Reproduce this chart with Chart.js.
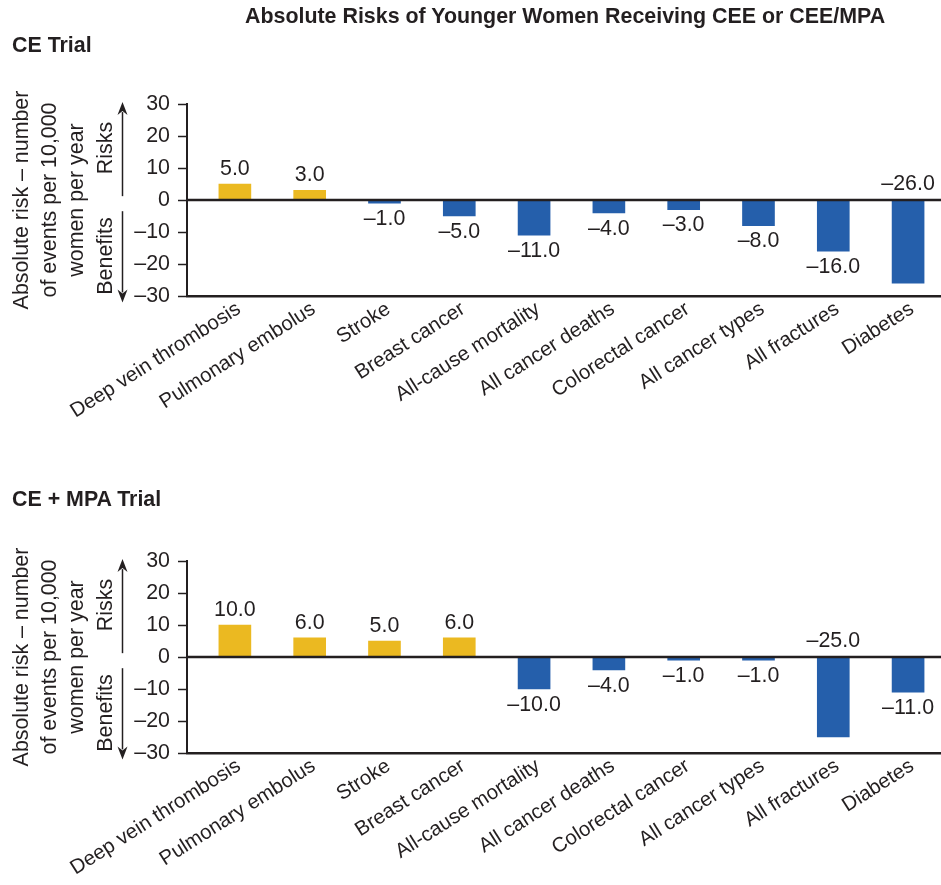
<!DOCTYPE html>
<html lang="en">
<head>
<meta charset="UTF-8">
<title>Absolute Risks of Younger Women Receiving CEE or CEE/MPA</title>
<style>
  body { margin: 0; background: #fff; font-family: "Liberation Sans", Arial, sans-serif; color: #231f20; }
  #page { position: relative; width: 941px; height: 885px; overflow: hidden; }
  canvas { position: absolute; left: 0; display: block; }
  #ceChart { top: 0; }
  #ceMpaChart { top: 457px; }
  .heading { position: absolute; font-weight: bold; font-size: 21.4px; line-height: 24px; white-space: nowrap; }
  #mainTitle { left: 245px; top: 4px; }
  #ceLabel { left: 12px; top: 33px; }
  #ceMpaLabel { left: 12px; top: 487px; }
</style>
</head>
<body>
<div id="page">
  <canvas id="ceChart" width="941" height="440"></canvas>
  <canvas id="ceMpaChart" width="941" height="428"></canvas>
  <div class="heading" id="mainTitle">Absolute Risks of Younger Women Receiving CEE or CEE/MPA</div>
  <div class="heading" id="ceLabel">CE Trial</div>
  <div class="heading" id="ceMpaLabel">CE + MPA Trial</div>
</div>

<script src="https://cdn.jsdelivr.net/npm/chart.js"></script>
<script>
// Outcomes, in the order they appear along the x axis
const categories = ['Deep vein thrombosis', 'Pulmonary embolus', 'Stroke', 'Breast cancer',
  'All-cause mortality', 'All cancer deaths', 'Colorectal cancer', 'All cancer types',
  'All fractures', 'Diabetes'];

// Events per 10,000 women per year (positive = risk, negative = benefit)
const ceValues = [5.0, 3.0, -1.0, -5.0, -11.0, -4.0, -3.0, -8.0, -16.0, -26.0];
const ceMpaValues = [10.0, 6.0, 5.0, 6.0, -10.0, -4.0, -1.0, -1.0, -25.0, -11.0];

const yTickValues = [-30, -20, -10, 0, 10, 20, 30];
const yTitle = ['Absolute risk \u2013 number', 'of events per 10,000', 'women per year'];
const sideLabels = ['Risks', 'Benefits'];

const INK = '#231f20';
const RISK_COLOR = '#ebb921';
const BENEFIT_COLOR = '#255fab';
const FONT = '"Liberation Sans", Arial, sans-serif';
const TEXT_SIZE = 21.4;

Chart.defaults.font.family = FONT;
Chart.defaults.color = INK;

// numbers use an en dash for the minus sign
function fmt(v, digits) {
  const s = Math.abs(v).toFixed(digits);
  return v < 0 ? '\u2013' + s : s;
}

// zero line + value labels on each bar
const barLabels = {
  id: 'barLabels',
  afterDatasetsDraw(chart) {
    const { ctx, chartArea } = chart;
    const zeroY = chart.scales.y.getPixelForValue(0);
    ctx.save();
    ctx.strokeStyle = INK;
    ctx.lineWidth = 2.5;
    ctx.beginPath();
    ctx.moveTo(chartArea.left, zeroY);
    ctx.lineTo(chartArea.right, zeroY);
    ctx.stroke();

    ctx.font = TEXT_SIZE + 'px ' + FONT;
    ctx.fillStyle = INK;
    ctx.textAlign = 'center';
    ctx.textBaseline = 'middle';
    const meta = chart.getDatasetMeta(0);
    const data = chart.data.datasets[0].data;
    meta.data.forEach((bar, i) => {
      const v = data[i].y;
      let y;
      if (v >= 0) {
        y = bar.y - 15;
      } else {
        y = bar.y + 16;
        // no room under the bar: put the label above the zero line
        if (y + 9 > chartArea.bottom) y = zeroY - 16;
      }
      ctx.fillText(fmt(v, 1), bar.x, y);
    });
    ctx.restore();
  }
};

function drawArrow(ctx, x, fromY, toY) {
  const dir = toY < fromY ? -1 : 1;
  ctx.beginPath();
  ctx.moveTo(x, fromY);
  ctx.lineTo(x, toY - dir * 10);
  ctx.stroke();
  ctx.beginPath();
  ctx.moveTo(x, toY);
  ctx.lineTo(x - 5, toY - dir * 13);
  ctx.lineTo(x, toY - dir * 9);
  ctx.lineTo(x + 5, toY - dir * 13);
  ctx.closePath();
  ctx.fill();
}

// "Risks" / "Benefits" with arrows beside the y axis
const riskArrows = {
  id: 'riskArrows',
  afterDraw(chart) {
    const { ctx } = chart;
    const y = chart.scales.y;
    ctx.save();
    ctx.strokeStyle = INK;
    ctx.fillStyle = INK;
    ctx.lineWidth = 1.5;
    drawArrow(ctx, 122.5, y.getPixelForValue(1.2), y.getPixelForValue(30.6));
    drawArrow(ctx, 122.5, y.getPixelForValue(-3.5), y.getPixelForValue(-32));

    ctx.font = TEXT_SIZE + 'px ' + FONT;
    ctx.textAlign = 'center';
    ctx.textBaseline = 'middle';
    [[sideLabels[0], 16.25], [sideLabels[1], -17.5]].forEach(([text, at]) => {
      ctx.save();
      ctx.translate(106, y.getPixelForValue(at));
      ctx.rotate(-Math.PI / 2);
      ctx.fillText(text, 0, 0);
      ctx.restore();
    });
    ctx.restore();
  }
};

function makeChart(id, values, xAxisHeight) {
  return new Chart(document.getElementById(id), {
    type: 'bar',
    data: {
      datasets: [{
        data: values.map((v, i) => ({ x: i, y: v })),
        backgroundColor: values.map(v => v >= 0 ? RISK_COLOR : BENEFIT_COLOR),
        barThickness: 32,
        borderWidth: 0
      }]
    },
    options: {
      responsive: false,
      animation: false,
      layout: { padding: { top: 104, right: 0, bottom: 0, left: 0 } },
      plugins: { legend: { display: false }, tooltip: { enabled: false } },
      scales: {
        x: {
          type: 'linear',
          offset: false,
          min: -0.64,
          max: 9.44,
          afterBuildTicks: s => { s.ticks = categories.map((c, i) => ({ value: i })); },
          afterFit: s => { s.height = xAxisHeight; },
          grid: { display: false, drawTicks: false, offset: false },
          border: { display: true, color: INK, width: 2.5 },
          ticks: {
            autoSkip: false,
            minRotation: 32.5,
            maxRotation: 32.5,
            padding: 1,
            labelOffset: 4,
            font: { size: 20.4 },
            color: INK,
            callback: v => categories[v]
          }
        },
        y: {
          min: -30,
          max: 30,
          afterBuildTicks: s => { s.ticks = yTickValues.map(v => ({ value: v })); },
          afterFit: s => { s.width = 187; },
          grid: { drawOnChartArea: false, drawTicks: true, tickLength: 9, tickWidth: 1.5, tickColor: INK },
          border: { display: true, color: INK, width: 2 },
          ticks: { padding: 8, font: { size: TEXT_SIZE }, color: INK, callback: v => fmt(v, 0) },
          title: {
            display: true,
            text: yTitle,
            color: INK,
            font: { size: TEXT_SIZE, lineHeight: 1.3 },
            padding: { top: 8, bottom: 0 }
          }
        }
      }
    },
    plugins: [barLabels, riskArrows]
  });
}

makeChart('ceChart', ceValues, 144);
makeChart('ceMpaChart', ceMpaValues, 132);
</script>
</body>
</html>
